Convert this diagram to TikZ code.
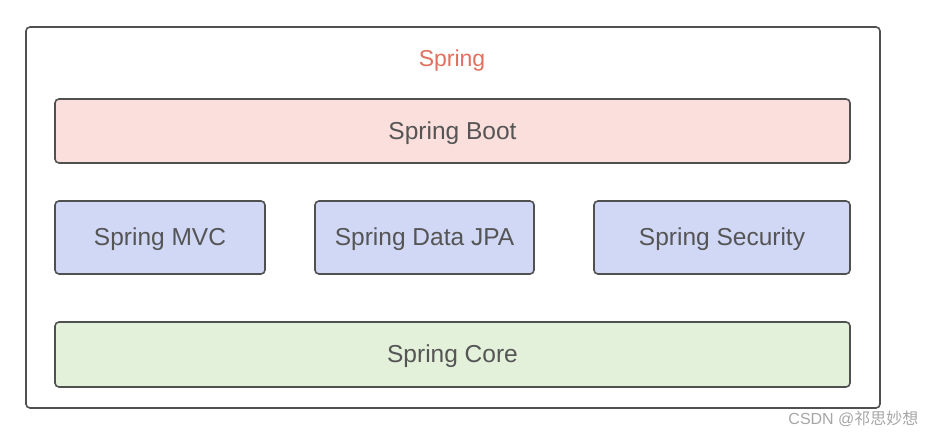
\documentclass[tikz,border=0pt]{standalone}
\usepackage{fontspec}
\setmainfont{Liberation Sans}
\newfontfamily\cjk{Noto Sans CJK SC}
\definecolor{bordc}{HTML}{505050}
\definecolor{txtc}{HTML}{555555}
\definecolor{springc}{HTML}{E0705F}
\definecolor{bootc}{HTML}{FADFDC}
\definecolor{modc}{HTML}{D1D8F5}
\definecolor{corec}{HTML}{E3F0DA}
\begin{document}
\begin{tikzpicture}[x=1pt,y=-1pt,
  layer/.style={draw=bordc,line width=1.6pt,rounded corners=4pt},
  lbl/.style={text=txtc,font=\fontsize{24.5}{28}\selectfont},
]
\useasboundingbox (0,0) rectangle (925,435);
\draw[layer,fill=white,line width=1.6pt] (26,27) rectangle (880,408);
\node[text=springc,font=\fontsize{23}{27}\selectfont] (spring) at (452,61) {Spring};
\draw[layer,fill=bootc] (55,99) rectangle (850,163);
\node[lbl] (boot) at (452.5,133) {Spring Boot};
\draw[layer,fill=modc] (55,201) rectangle (265,274);
\node[lbl] (mvc) at (160,239) {Spring MVC};
\draw[layer,fill=modc] (315,201) rectangle (534,274);
\node[lbl] (jpa) at (424.5,239) {Spring Data JPA};
\draw[layer,fill=modc] (594,201) rectangle (850,274);
\node[lbl] (sec) at (722,239) {Spring Security};
\draw[layer,fill=corec] (55,322) rectangle (850,387);
\node[lbl] (core) at (452.5,356) {Spring Core};
\node[anchor=east,text=black!35,font=\fontsize{16}{19}\selectfont] (wm) at (922,419) {CSDN @{\cjk 祁思妙想}};
\end{tikzpicture}
\end{document}
